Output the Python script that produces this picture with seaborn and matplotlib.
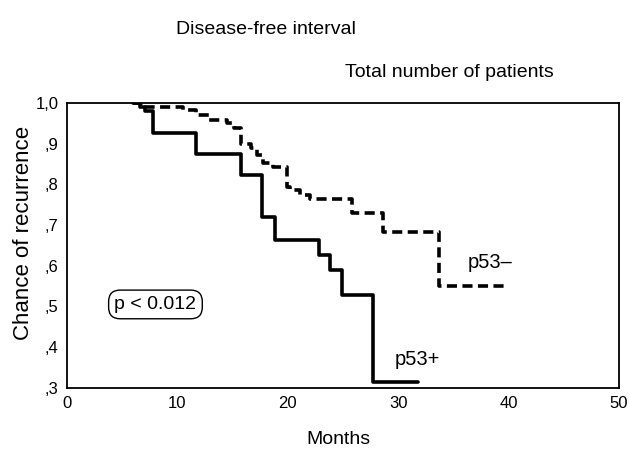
import pandas as pd
import seaborn as sns
import matplotlib.pyplot as plt

# p53+ (solid) : temps en mois et survie apres chaque evenement
pos_months = [6.0, 6.6, 7.1, 7.8, 11.7, 15.8, 17.7, 18.8, 22.8, 23.8, 24.9, 27.7, 31.8]
pos_surv = [1.0, 0.99, 0.98, 0.925, 0.875, 0.823, 0.72, 0.663, 0.626, 0.589, 0.527, 0.314, 0.314]

# p53- (dashed)
neg_months = [6.0, 6.9, 10.5, 11.7, 12.9, 14.5, 15.1, 15.8, 16.7, 17.2, 17.8, 18.7,
              19.9, 20.2, 21.1, 22.0, 25.8, 28.6, 33.7, 40.0]
neg_surv = [1.0, 0.99, 0.983, 0.97, 0.958, 0.95, 0.938, 0.90, 0.89, 0.872, 0.852, 0.843,
            0.794, 0.786, 0.773, 0.764, 0.73, 0.683, 0.55, 0.55]

y_ticks = [1.0, 0.9, 0.8, 0.7, 0.6, 0.5, 0.4, 0.3]
y_labels = ["1,0", ",9", ",8", ",7", ",6", ",5", ",4", ",3"]
x_ticks = [0, 10, 20, 30, 40, 50]

df_pos = pd.DataFrame({"months": pos_months, "surv": pos_surv})
df_neg = pd.DataFrame({"months": neg_months, "surv": neg_surv})

sns.set_style("white")
plt.rcParams["font.family"] = ["Liberation Sans", "DejaVu Sans"]
plt.rcParams.update({"text.color": "black", "axes.labelcolor": "black",
                     "xtick.color": "black", "ytick.color": "black"})

fig = plt.figure(figsize=(6.29, 4.49), dpi=100)
ax = fig.add_axes([0.1065, 0.136, 0.8775, 0.635])

sns.lineplot(data=df_pos, x="months", y="surv", ax=ax, color="black", lw=2.6,
             drawstyle="steps-post", estimator=None, sort=False)
sns.lineplot(data=df_neg, x="months", y="surv", ax=ax, color="black", lw=2.6,
             drawstyle="steps-post", estimator=None, sort=False, dashes=False,
             linestyle=(0, (2.8, 1.5)))

ax.set_xlim(0, 50)
ax.set_ylim(0.3, 1.0)
ax.set_xticks(x_ticks)
ax.set_yticks(y_ticks)
ax.set_yticklabels(y_labels)
ax.tick_params(length=0, labelsize=12, pad=6)
for s in ax.spines.values():
    s.set_color("black")
    s.set_linewidth(1.3)

ax.set_xlabel("Months", fontsize=14)
ax.set_ylabel("Chance of recurrence", fontsize=16)
ax.xaxis.set_label_coords(0.491, -0.152)
ax.yaxis.set_label_coords(-0.06, 0.544)

fig.text(0.423, 0.935, "Disease-free interval", fontsize=14, ha="center", va="center")
fig.text(0.715, 0.838, "Total number of patients", fontsize=14, ha="center", va="center")

ax.text(36.3, 0.608, "p53\u2013", fontsize=14.5, ha="left", va="center")
ax.text(29.7, 0.369, "p53+", fontsize=14.5, ha="left", va="center")
ax.text(4.3, 0.505, "p < 0.012", fontsize=14, ha="left", va="center",
        bbox=dict(boxstyle="round,pad=0.3,rounding_size=0.6", fc="white", ec="black", lw=1))

fig.savefig("out.png", dpi=100)
